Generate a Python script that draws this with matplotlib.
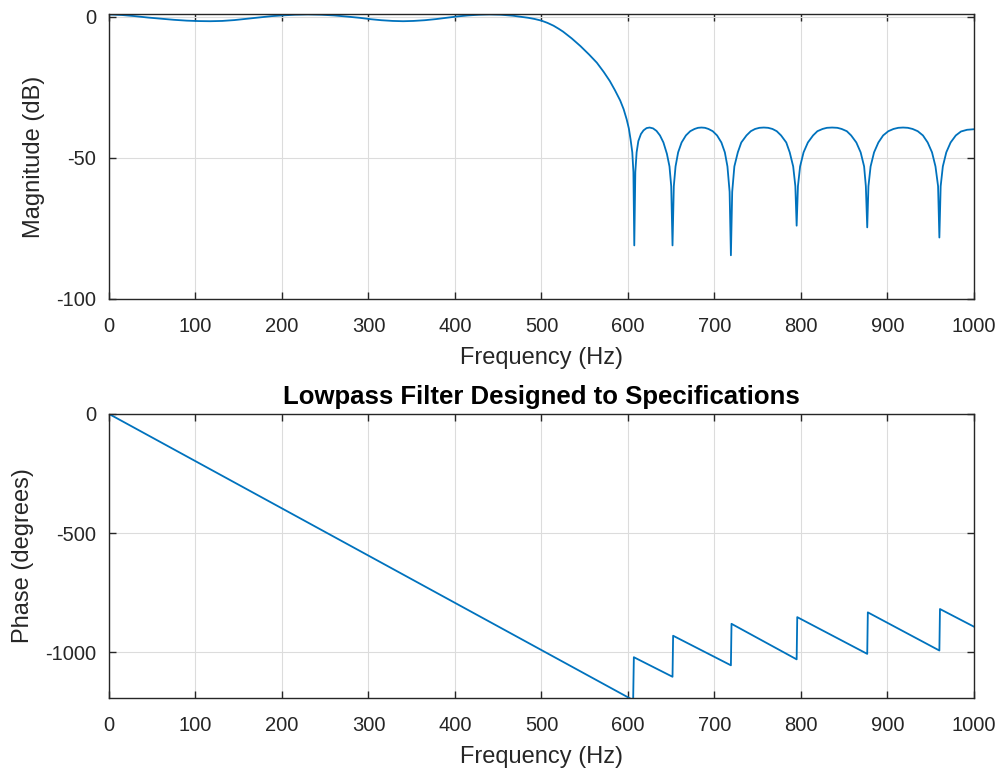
import numpy as np
import matplotlib
matplotlib.use('Agg')
import matplotlib.pyplot as plt

# Magnitude response (Hz, dB)
mag_freq = [0, 15, 30, 45, 60, 75, 90, 104, 117, 131, 145, 160, 175, 188, 200,
            215, 230, 245, 260, 275, 290, 303, 315, 328, 340, 352, 365, 378, 390,
            403, 415, 428, 440, 453, 467, 477, 485, 492,
            500, 507, 514, 520, 525, 535, 545, 555, 564, 572, 579, 585, 591, 595, 598.5,
            601, 603, 605, 606.3, 607.3,
            608.5, 610, 612, 615, 618, 621.5, 625, 629, 633, 637, 641, 645, 648, 650, 651.5,
            653, 655, 658, 662, 667, 672, 677, 681, 685, 689, 693, 698, 703, 708, 712, 715, 717.5, 719,
            720.5, 723, 727, 731, 737, 742, 747, 752, 757, 762, 767, 772, 777, 783, 787, 791, 793.5, 795,
            796.5, 799, 803, 808, 814, 819, 825, 830, 836, 842, 847, 853, 858, 864, 869, 873, 875, 876.6,
            878, 880.5, 884.5, 889.5, 895, 901, 907, 912.5, 918, 923.5, 929, 935, 941, 946.5, 951.5,
            955.5, 958.5, 960,
            961.5, 964, 968, 973, 979, 985, 992, 1000]
mag_db = [0.9, 0.7, 0.3, -0.2, -0.6, -1.0, -1.3, -1.45, -1.5, -1.4, -1.1, -0.6, -0.1, 0.3, 0.55,
          0.8, 0.9, 0.8, 0.55, 0.15, -0.3, -0.8, -1.15, -1.4, -1.5, -1.4, -1.15, -0.75, -0.3,
          0.2, 0.55, 0.8, 0.9, 0.8, 0.45, 0.05, -0.3, -0.7,
          -1.3, -2.1, -3.1, -4.2, -5.2, -7.6, -10.3, -13.3, -16.2, -19.5, -22.7, -26, -29.6, -32.7, -36.3,
          -39.5, -43.4, -48, -55, -81,
          -55, -48, -44, -41.5, -40.2, -39.4, -39.2, -39.5, -40.4, -42, -44.5, -48.5, -53, -60, -81,
          -60, -53, -48, -44.5, -42, -40.5, -39.7, -39.3, -39.2, -39.3, -39.7, -40.5, -42, -44.5, -48, -53, -62, -84.5,
          -62, -53, -48, -44.5, -42, -40.5, -39.7, -39.3, -39.2, -39.3, -39.7, -40.5, -42, -44.5, -48, -53, -60, -74,
          -60, -53, -48, -44.5, -42, -40.5, -39.7, -39.3, -39.2, -39.3, -39.7, -40.5, -42, -44.5, -48, -53, -60, -74.6,
          -60, -53, -48, -44.5, -42, -40.5, -39.7, -39.3, -39.2, -39.3, -39.7, -40.5, -42, -44.5, -48,
          -53, -60, -78.2,
          -60, -53, -48, -44.5, -42, -40.6, -40.0, -39.8]

# Phase response (Hz, degrees)
phase_freq = [0, 606, 606.8, 651.5, 652.2, 719, 719.7, 795, 795.7, 876.6, 877.3, 960, 960.7, 1000]
phase_deg = [0, -1200, -1020, -1102, -930, -1054, -880, -1029, -852, -1006, -832, -992, -818, -892]

blue = '#0072BD'
axcol = '#262626'
plt.rcParams['font.family'] = ['Liberation Sans', 'DejaVu Sans']
plt.rcParams['axes.unicode_minus'] = False

fig = plt.figure(figsize=(10.07, 7.74), dpi=100)
ax1 = fig.add_axes([0.1082, 0.6137, 0.859, 0.368])
ax2 = fig.add_axes([0.1082, 0.0982, 0.859, 0.367])

ax1.plot(mag_freq, mag_db, color=blue, lw=1.3)
ax1.set_xlim(0, 1000)
ax1.set_ylim(-100, 1)
ax1.set_yticks([-100, -50, 0])
ax1.set_ylabel('Magnitude (dB)', fontsize=17, color=axcol, labelpad=8)

ax2.plot(phase_freq, phase_deg, color=blue, lw=1.3)
ax2.set_xlim(0, 1000)
ax2.set_ylim(-1191, 0)
ax2.set_yticks([-1000, -500, 0])
ax2.set_ylabel('Phase (degrees)', fontsize=17, color=axcol, labelpad=8)
ax2.set_title('Lowpass Filter Designed to Specifications', fontsize=18.5,
              fontweight='bold', color='black', pad=7)

for ax in (ax1, ax2):
    ax.set_xticks(np.arange(0, 1001, 100))
    ax.set_xlabel('Frequency (Hz)', fontsize=17, color=axcol, labelpad=8)
    ax.grid(True, color='#dcdcdc', lw=0.8)
    ax.set_axisbelow(True)
    ax.tick_params(direction='in', top=True, right=True, labelsize=14.5,
                   colors=axcol, length=5, width=1)
    ax.tick_params(axis='x', pad=13)
    ax.tick_params(axis='y', pad=9)
    for s in ax.spines.values():
        s.set_color(axcol)
        s.set_linewidth(1)

fig.savefig('out.png', dpi=100)
